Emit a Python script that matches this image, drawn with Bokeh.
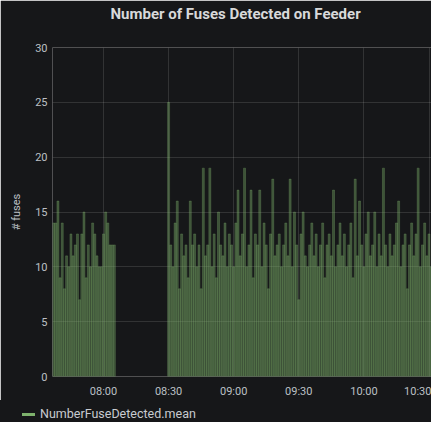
from bokeh.plotting import figure
from bokeh.layouts import column
from bokeh.models import FixedTicker, ColumnDataSource, Range1d, Title, Div
from bokeh.embed import file_html
from bokeh.resources import INLINE

# ---------------- data ----------------
chart_title = "Number of Fuses Detected on Feeder"
series_name = "NumberFuseDetected.mean"
y_label = "# fuses"
x_tick_labels = ["08:00", "08:30", "09:00", "09:30", "10:00", "10:30"]
y_ticks = [0, 5, 10, 15, 20, 25, 30]
x_window = ["07:36:30", "10:31:09"]

# first burst of readings, one per minute
seg1_start = "07:37"
seg1_values = [14, 14, 16, 9, 14, 8, 11, 10, 13, 11, 12, 13, 7, 13, 15,
               9, 12, 10, 14, 13, 11, 10, 10, 13, 15, 14, 12, 12, 12]

# second burst of readings, one per minute
seg2_start = "08:30"
seg2_values = [25, 12, 10, 14, 16, 8, 13, 11, 12, 9, 16, 12, 13, 10, 12, 8,
               19, 11, 12, 19, 10, 13, 9, 15, 12, 11, 14, 10, 13, 12, 10, 14,
               17, 11, 13, 19, 10, 12, 17, 9, 13, 12, 17, 10, 14, 12, 8, 13,
               18, 11, 12, 13, 10, 12, 14, 11, 18, 10, 15, 12, 7, 13, 15, 11,
               10, 12, 14, 11, 13, 10, 12, 14, 9, 12, 13, 11, 17, 10, 12, 14,
               11, 13, 10, 12, 14, 9, 18, 11, 16, 12, 10, 13, 15, 11, 12, 15,
               10, 13, 11, 19, 12, 10, 13, 11, 12, 14, 16, 10, 12, 13, 8, 12,
               14, 11, 13, 19, 10, 12, 14, 11, 13, 10, 15, 12, 17, 14]


def to_minutes(s):
    parts = [float(v) for v in s.split(":")]
    m = parts[0] * 60 + parts[1]
    if len(parts) > 2:
        m += parts[2] / 60.0
    return m


xs, ys = [], []
for start, vals in ((seg1_start, seg1_values), (seg2_start, seg2_values)):
    s0 = to_minutes(start)
    for i, v in enumerate(vals):
        xs.append(s0 + i)
        ys.append(v)

src = ColumnDataSource(data=dict(x=xs, top=ys))

BG = "#161719"
GREEN = "#7EB26D"
TXT = "#bcc0c5"
FONT = "Roboto"

p = figure(
    width=431, height=400,
    min_border_left=52, min_border_right=0, min_border_top=47, min_border_bottom=23,
    x_range=Range1d(to_minutes(x_window[0]), to_minutes(x_window[1])),
    y_range=Range1d(0, 30),
    output_backend="svg", toolbar_location=None,
    background_fill_color=BG, border_fill_color=BG,
)
p.outline_line_color = None

# main title (outermost panel) and a thin spacer panel between it and the frame
p.title.text = chart_title
p.title.align = "left"
p.title.offset = 58
p.title.vertical_align = "top"
p.title.standoff = 0
p.title.text_color = "#d8d9da"
p.title.text_font = FONT
p.title.text_font_size = "15px"
p.title.text_font_style = "bold"
p.add_layout(Title(text=" ", text_font_size="1px", standoff=20), "above")

bars = p.vbar(x="x", top="top", width=0.92, source=src,
              fill_color=GREEN, fill_alpha=0.38,
              line_color=GREEN, line_alpha=0.45, line_width=0.6)

# axes
tick_pos = [to_minutes(t) for t in x_tick_labels]
p.xaxis.ticker = FixedTicker(ticks=tick_pos)
p.xaxis.major_label_overrides = {tp: lab for tp, lab in zip(tick_pos, x_tick_labels)}
p.yaxis.ticker = FixedTicker(ticks=y_ticks)
for ax in (p.xaxis[0], p.yaxis[0]):
    ax.axis_line_color = None
    ax.major_tick_line_color = None
    ax.minor_tick_line_color = None
    ax.major_tick_out = 0
    ax.major_tick_in = 0
    ax.minor_tick_out = 0
    ax.minor_tick_in = 0
    ax.major_label_text_color = TXT
    ax.major_label_text_font = FONT
    ax.major_label_text_font_size = "11px"
p.xaxis.major_label_standoff = 8
p.yaxis.major_label_standoff = 5
p.yaxis.axis_label = y_label
p.yaxis.axis_label_text_color = TXT
p.yaxis.axis_label_text_font = FONT
p.yaxis.axis_label_text_font_size = "11px"
p.yaxis.axis_label_text_font_style = "normal"
p.yaxis.axis_label_standoff = 9

p.xgrid.grid_line_color = "#ffffff"
p.xgrid.grid_line_alpha = 0.12
p.ygrid.grid_line_color = "#ffffff"
p.ygrid.grid_line_alpha = 0.12

# legend strip below the chart
legend_html = (
    f'<div style="display:flex;align-items:center;width:431px;height:22px;'
    f'box-sizing:border-box;padding:6px 0 0 22px;background:{BG};'
    f'font-family:Roboto,sans-serif;font-size:12.5px;color:#c8cbd0;white-space:nowrap;">'
    f'<span style="display:inline-block;width:13px;height:3px;background:{GREEN};'
    f'margin-right:5px;"></span>{series_name}</div>'
)
lg = Div(text=legend_html, width=431, height=22,
         styles={"background-color": BG, "margin": "0", "padding": "0"})

page = column(p, lg, spacing=0)
open("out.html", "w").write(file_html(page, INLINE))
